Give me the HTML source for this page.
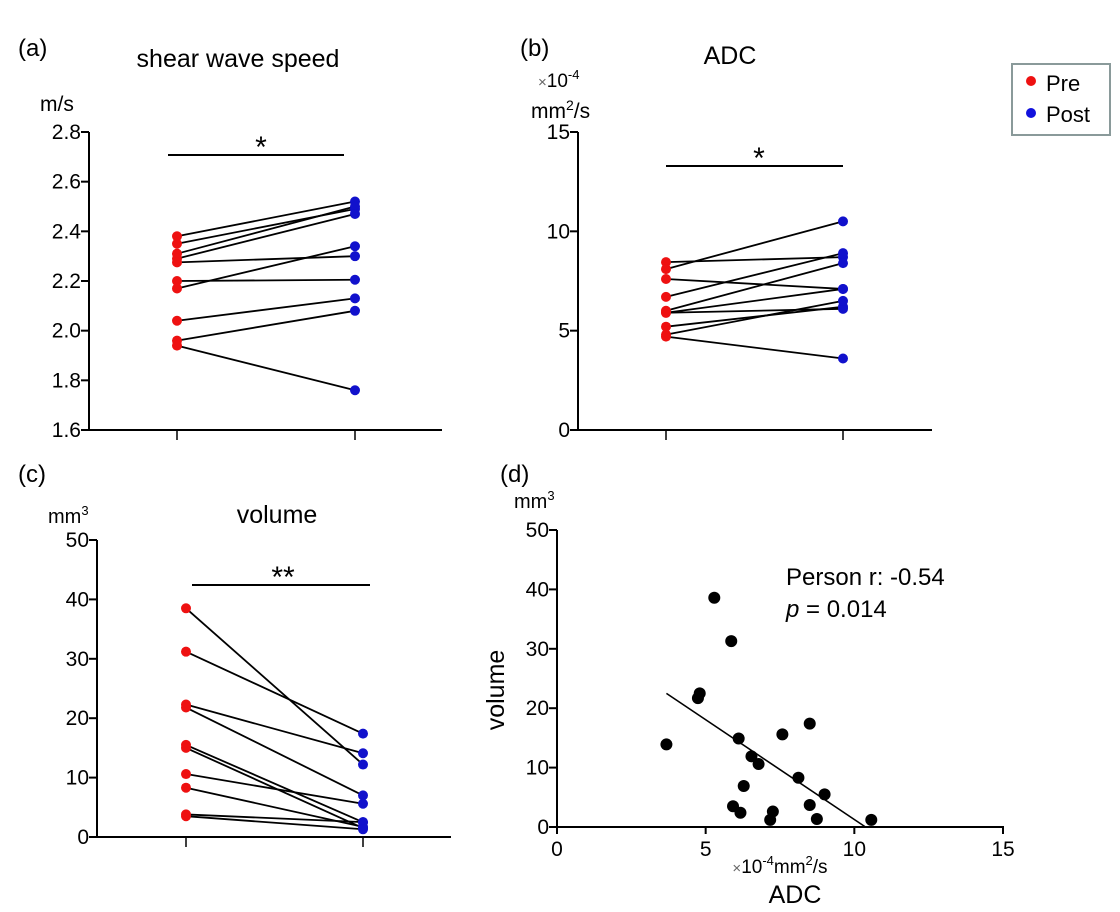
<!DOCTYPE html>
<html><head><meta charset="utf-8">
<style>
html,body{margin:0;padding:0;background:#fff;}
svg{display:block;font-family:"Liberation Sans",Arial,sans-serif;}
</style></head>
<body>
<svg id="fig" width="1120" height="912" viewBox="0 0 1120 912" xmlns="http://www.w3.org/2000/svg">
<g id="static" fill="#000">
<text x="18" y="56" font-size="24">(a)</text>
<text x="238" y="67" font-size="25" text-anchor="middle">shear wave speed</text>
<text x="40" y="111" font-size="21">m/s</text>
<text x="520" y="56" font-size="24">(b)</text>
<text x="730" y="64" font-size="25" text-anchor="middle">ADC</text>
<text x="538" y="87" font-size="19"><tspan fill="#666" font-size="15">×</tspan>10<tspan font-size="13" dy="-8">-4</tspan></text>
<text x="531" y="118" font-size="21">mm<tspan font-size="14" dy="-8">2</tspan><tspan dy="8">/s</tspan></text>
<text x="18" y="482" font-size="24">(c)</text>
<text x="48" y="523" font-size="20">mm<tspan font-size="13" dy="-8">3</tspan></text>
<text x="277" y="523" font-size="25" text-anchor="middle">volume</text>
<text x="500" y="482" font-size="24">(d)</text>
<text x="514" y="508" font-size="20">mm<tspan font-size="13" dy="-8">3</tspan></text>
<text transform="translate(504,690) rotate(-90)" font-size="25" text-anchor="middle">volume</text>
<text x="780" y="873" font-size="19" text-anchor="middle"><tspan fill="#666" font-size="15">×</tspan>10<tspan font-size="13" dy="-8">-4</tspan><tspan dy="8">mm</tspan><tspan font-size="13" dy="-8">2</tspan><tspan dy="8">/s</tspan></text>
<text x="795" y="903" font-size="25" text-anchor="middle">ADC</text>
<text x="786" y="585" font-size="24">Person r: -0.54</text>
<text x="786" y="617" font-size="24"><tspan font-style="italic">p</tspan> = 0.014</text>
<g>
<rect x="1012" y="64" width="98" height="71" fill="#fff" stroke="#8a9a9a" stroke-width="2"/>
<circle cx="1031" cy="81" r="5" fill="#ee1111"/>
<text x="1046" y="91" font-size="22">Pre</text>
<circle cx="1031" cy="113" r="5" fill="#1111dd"/>
<text x="1046" y="122" font-size="22">Post</text>
</g>
</g>
<g id="charts"></g>
</svg>
<script>
// Panel a: shear wave speed (m/s)
const swsPre  = [2.38, 2.35, 2.31, 2.29, 2.275, 2.20, 2.17, 2.04, 1.96, 1.94];
const swsPost = [2.52, 2.49, 2.50, 2.47, 2.30, 2.205, 2.34, 2.13, 2.08, 1.76];
const swsTicks = ["1.6","1.8","2.0","2.2","2.4","2.6","2.8"];
// Panel b: ADC (x10^-4 mm2/s)
const adcPre  = [8.45, 8.1, 7.6, 6.7, 6.0, 5.9, 5.9, 5.2, 4.8, 4.7];
const adcPost = [8.7, 10.5, 7.1, 8.9, 8.4, 7.1, 6.1, 6.2, 6.5, 3.6];
const adcTicks = ["0","5","10","15"];
// Panel c: volume (mm3)
const volPre  = [38.5, 31.2, 22.3, 21.8, 15.5, 15.0, 10.6, 8.3, 3.8, 3.5];
const volPost = [12.2, 17.4, 14.1, 7.0, 2.5, 1.5, 5.6, 1.7, 2.5, 1.3];
const volTicks = ["0","10","20","30","40","50"];
// Panel d: scatter ADC vs volume
const scatADC = [5.29,5.86,4.74,4.80,3.68,6.11,7.58,8.50,6.54,6.78,8.12,6.28,9.0,5.92,6.17,7.26,7.17,8.50,8.74,10.57];
const scatVol = [38.6,31.3,21.7,22.5,13.9,14.9,15.6,17.4,11.9,10.6,8.3,6.9,5.5,3.5,2.4,2.6,1.2,3.7,1.35,1.2];
const fitSlope = [-3.36];
const fitIntercept = [34.86];
const fitRange = [3.68, 10.35];
const scatXTicks = ["0","5","10","15"];
const scatYTicks = ["0","10","20","30","40","50"];

const NS = "http://www.w3.org/2000/svg";
const root = document.getElementById("charts");
function mk(tag, attrs, parent){ const e=document.createElementNS(NS,tag); for(const k in attrs) e.setAttribute(k,attrs[k]); (parent||root).appendChild(e); return e; }
function lin(d0,d1,r0,r1){ return v => r0 + (v-d0)/(d1-d0)*(r1-r0); }

function pairedPanel(name, pre, post, ticks, ymin, ymax, ax, yTop, yBot, xEnd, xPre, xPost, barY, barX1, barX2, starX, stars){
  const g = mk("g",{});
  
  
  const y = lin(ymin,ymax,yBot,yTop);
  const yax = mk("line",{x1:ax,y1:yTop,x2:ax,y2:yBot,stroke:"#000","stroke-width":2},g);
  
  
  const xax = mk("line",{x1:ax-1,y1:yBot,x2:xEnd,y2:yBot,stroke:"#000","stroke-width":2},g);
  
  
  ticks.forEach(t=>{
    const v=parseFloat(t), yy=y(v);
    mk("line",{x1:ax-8,y1:yy,x2:ax,y2:yy,stroke:"#000","stroke-width":2},g);
    const tx = mk("text",{x:ax-8,y:yy+7,"font-size":21,"text-anchor":"end"},g);
    tx.textContent=t;
    
    
  });
  [xPre,xPost].forEach(xx=>mk("line",{x1:xx,y1:yBot,x2:xx,y2:yBot+10,stroke:"#000","stroke-width":1.5},g));
  pre.forEach((v,i)=>{
    const l = mk("line",{x1:xPre,y1:y(v),x2:xPost,y2:y(post[i]),stroke:"#000","stroke-width":1.8},g);
    
    
  });
  pre.forEach(v=>{
    const c = mk("circle",{cx:xPre,cy:y(v),r:5,fill:"#ee1111"},g);
    
    
  });
  post.forEach(v=>{
    const c = mk("circle",{cx:xPost,cy:y(v),r:5,fill:"#1111cc"},g);
    
    
  });
  const b = mk("line",{x1:barX1,y1:barY,x2:barX2,y2:barY,stroke:"#000","stroke-width":2},g);
  
  
  const s = mk("text",{x:starX,y:barY+2,"font-size":30,"text-anchor":"middle"},g);
  s.textContent=stars;
  
  
}
pairedPanel("sws", swsPre, swsPost, swsTicks, 1.6, 2.8, 89, 132, 430, 442, 177, 355, 155, 168, 344, 261, "*");
pairedPanel("adc", adcPre, adcPost, adcTicks, 0, 15, 578, 132, 430, 932, 666, 843, 166, 666, 843, 759, "*");
pairedPanel("vol", volPre, volPost, volTicks, 0, 50, 97, 540, 837, 451, 186, 363, 585, 192, 370, 283, "**");

// scatter
(function(){
  const g = mk("g",{});
  
  
  const x = lin(0,15,557,1003), y = lin(0,50,827,530);
  const ya = mk("line",{x1:557,y1:530,x2:557,y2:828,stroke:"#000","stroke-width":2},g);
  
  
  const xa = mk("line",{x1:556,y1:827,x2:1004,y2:827,stroke:"#000","stroke-width":2},g);
  
  
  scatYTicks.forEach(t=>{
    const yy=y(parseFloat(t));
    mk("line",{x1:549,y1:yy,x2:557,y2:yy,stroke:"#000","stroke-width":2},g);
    const tx = mk("text",{x:549,y:yy+7,"font-size":21,"text-anchor":"end"},g);
    tx.textContent=t;
    
    
  });
  scatXTicks.forEach(t=>{
    const xx=x(parseFloat(t));
    mk("line",{x1:xx,y1:827,x2:xx,y2:834,stroke:"#000","stroke-width":2},g);
    const tx = mk("text",{x:xx,y:856,"font-size":21,"text-anchor":"middle"},g);
    tx.textContent=t;
    
    
  });
  const f = v => fitSlope[0]*v + fitIntercept[0];
  const fl = mk("line",{x1:x(fitRange[0]),y1:y(f(fitRange[0])),x2:x(fitRange[1]),y2:y(f(fitRange[1])),stroke:"#000","stroke-width":1.6},g);
  
  
  scatADC.forEach((v,i)=>{
    const c = mk("circle",{cx:x(v),cy:y(scatVol[i]),r:6,fill:"#000"},g);
    
    
  });
})();
</script>
</body></html>
